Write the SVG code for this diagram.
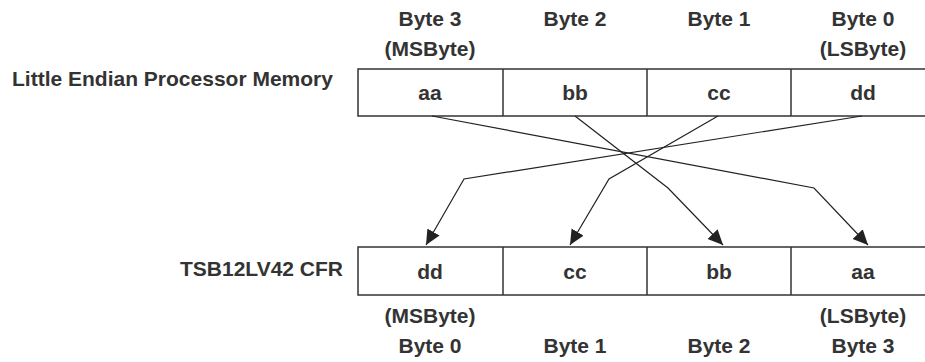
<svg xmlns="http://www.w3.org/2000/svg" width="925" height="362" viewBox="0 0 925 362">
<style>
text{font-family:"Liberation Sans",Arial,sans-serif;font-weight:bold;font-size:21px;fill:#333}
.c{text-anchor:middle}
.box{fill:#fff;stroke:#333;stroke-width:1.5}
.conn{fill:none;stroke:#222;stroke-width:1.2}
</style>
<defs>
<marker id="ah" markerUnits="userSpaceOnUse" markerWidth="16" markerHeight="16" refX="15" refY="7" orient="auto">
<path d="M0,0 L15,7 L0,14 z" fill="#222"/>
</marker>
</defs>
<rect width="925" height="362" fill="#fff"/>
<g id="top-labels">
<text class="c" x="430" y="26">Byte 3</text>
<text class="c" x="430" y="56">(MSByte)</text>
<text class="c" x="575" y="26">Byte 2</text>
<text class="c" x="719" y="26">Byte 1</text>
<text class="c" x="863" y="26">Byte 0</text>
<text class="c" x="863" y="56">(LSByte)</text>
</g>
<g id="little-endian-label"><text x="12" y="86">Little Endian Processor Memory</text></g>
<g id="tsb-label"><text x="343" y="276" text-anchor="end">TSB12LV42 CFR</text></g>
<g id="top-memory">
<rect class="box" x="358" y="69" width="577" height="47"/>
<line class="box" x1="503" y1="69" x2="503" y2="116"/>
<line class="box" x1="647" y1="69" x2="647" y2="116"/>
<line class="box" x1="791" y1="69" x2="791" y2="116"/>
<text class="c" x="430" y="100">aa</text>
<text class="c" x="575" y="100">bb</text>
<text class="c" x="719" y="100">cc</text>
<text class="c" x="863" y="100">dd</text>
</g>
<g id="cfr">
<rect class="box" x="358" y="247" width="577" height="48"/>
<line class="box" x1="503" y1="247" x2="503" y2="295"/>
<line class="box" x1="647" y1="247" x2="647" y2="295"/>
<line class="box" x1="791" y1="247" x2="791" y2="295"/>
<text class="c" x="430" y="279">dd</text>
<text class="c" x="575" y="279">cc</text>
<text class="c" x="719" y="279">bb</text>
<text class="c" x="863" y="279">aa</text>
</g>
<g id="bottom-labels">
<text class="c" x="430" y="323">(MSByte)</text>
<text class="c" x="863" y="323">(LSByte)</text>
<text class="c" x="430" y="353">Byte 0</text>
<text class="c" x="575" y="353">Byte 1</text>
<text class="c" x="719" y="353">Byte 2</text>
<text class="c" x="863" y="353">Byte 3</text>
</g>
<g id="connectors">
<polyline class="conn" points="432,116 814,188 868,245" marker-end="url(#ah)"/>
<polyline class="conn" points="575,116 668,188 723,245" marker-end="url(#ah)"/>
<polyline class="conn" points="718,116 609,179 570,245" marker-end="url(#ah)"/>
<polyline class="conn" points="862,116 464,179 426,245" marker-end="url(#ah)"/>
</g>
</svg>
